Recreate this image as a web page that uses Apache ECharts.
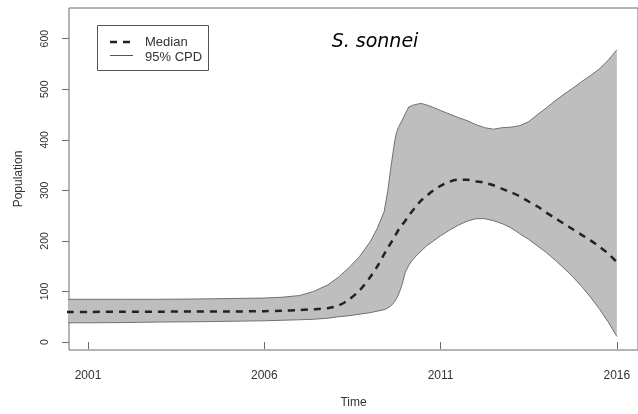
<!DOCTYPE html>
<html>
<head>
<meta charset="utf-8">
<script src="https://cdn.jsdelivr.net/npm/echarts@6/dist/echarts.min.js"></script>
<style>
html,body{margin:0;padding:0;background:#fff;}
#chart{width:638px;height:414px;}
</style>
</head>
<body>
<div id="chart"></div>
<script>
const times = [2000.4, 2001, 2002, 2003, 2004, 2005, 2006, 2006.5, 2007, 2007.4, 2007.8, 2008.1, 2008.4, 2008.7, 2009.0, 2009.2, 2009.4, 2009.5, 2009.6, 2009.7, 2009.75, 2009.8, 2009.85, 2009.9, 2010.0, 2010.1, 2010.2, 2010.3, 2010.45, 2010.6, 2010.8, 2011.0, 2011.25, 2011.5, 2011.75, 2012.0, 2012.25, 2012.5, 2012.75, 2013.0, 2013.25, 2013.5, 2013.75, 2014.0, 2014.25, 2014.5, 2014.75, 2015.0, 2015.25, 2015.5, 2015.75, 2016.0];
const upper = [84.5, 84.5, 84.5, 84.5, 85, 86, 87, 88.5, 92, 100, 113, 128, 147, 169, 198, 224, 258, 298, 350, 398, 414, 424, 431, 437, 452, 465, 468, 470, 472, 469, 464, 458, 451, 444, 438, 430, 424, 421, 424, 425, 428, 436, 450, 463, 477, 490, 502, 515, 527, 540, 557, 578];
const median = [59.5, 59.5, 60, 60, 60.5, 60.5, 61, 62, 63, 65, 67, 72, 84, 102, 128, 149, 174, 186, 197, 209, 215, 221, 226, 231, 240, 250, 259, 268, 280, 289, 300, 309, 317, 321, 321, 318, 315, 310, 303, 296, 288, 278, 268, 256, 245, 234, 223, 212, 201, 189, 175, 158];
const lower = [38, 38, 38.5, 39.5, 40, 41, 42, 43, 44, 45, 47, 50, 52, 55, 58, 61, 64, 67, 72, 80, 86, 93, 102, 112, 138, 152, 162, 170, 180, 190, 200, 210, 221, 231, 239, 244, 244, 240, 234, 226, 214, 203, 190, 177, 162, 146, 129, 110, 89, 66, 40, 11];
const xTicks = [2001, 2006, 2011, 2016];
const yTicks = [0, 100, 200, 300, 400, 500, 600];
const legendLabels = ['Median', '95% CPD'];

const chart = echarts.init(document.getElementById('chart'), null, {renderer: 'canvas'});
const lowerData = times.map((t, i) => [t, lower[i]]);
const upperData = times.map((t, i) => [t, upper[i]]);
const bandData = times.map((t, i) => [t, lower[i], upper[i]]);
const medianData = times.map((t, i) => [t, median[i]]);
const axisGray = '#6a6a6a';
const bandLine = '#707070';
const txt = '#333';

chart.setOption({
  animation: false,
  backgroundColor: '#fff',
  grid: {left: 69, top: 8, width: 570, height: 342, show: true, borderColor: axisGray, borderWidth: 1, backgroundColor: 'transparent'},
  xAxis: {
    type: 'value', min: 2000.46, max: 2016.6,
    name: 'Time', nameLocation: 'middle', nameGap: 47,
    nameTextStyle: {fontFamily: 'Liberation Sans', fontSize: 12, color: txt},
    axisLine: {show: false},
    splitLine: {show: false},
    axisTick: {show: true, length: 7, customValues: xTicks, lineStyle: {color: axisGray}},
    axisLabel: {customValues: xTicks, margin: 20, fontFamily: 'Liberation Sans', fontSize: 12, color: txt, formatter: v => String(v)}
  },
  yAxis: {
    type: 'value', min: -15.8, max: 660.7,
    name: 'Population', nameLocation: 'middle', nameGap: 44, nameRotate: 90,
    nameTextStyle: {fontFamily: 'Liberation Sans', fontSize: 12, color: txt},
    axisLine: {show: false},
    splitLine: {show: false},
    axisTick: {show: true, length: 7, customValues: yTicks, lineStyle: {color: axisGray}},
    axisLabel: {customValues: yTicks, rotate: 90, margin: 18, fontFamily: 'Liberation Sans', fontSize: 10.5, color: txt}
  },
  graphic: [
    {type: 'rect', shape: {x: 97.5, y: 25.5, width: 111, height: 45}, style: {fill: '#fff', stroke: '#555', lineWidth: 1}, z: 10},
    {type: 'line', shape: {x1: 110, y1: 42, x2: 131, y2: 42}, style: {stroke: '#222', lineWidth: 2.5, lineDash: [7, 6]}, z: 11},
    {type: 'line', shape: {x1: 110, y1: 55.5, x2: 133, y2: 55.5}, style: {stroke: '#555', lineWidth: 1}, z: 11},
    {type: 'text', x: 145, y: 42.5, style: {text: legendLabels[0], fontFamily: 'Liberation Sans', fontSize: 13, fill: txt, verticalAlign: 'middle'}, z: 11},
    {type: 'text', x: 145, y: 57, style: {text: legendLabels[1], fontFamily: 'Liberation Sans', fontSize: 13, fill: txt, verticalAlign: 'middle'}, z: 11},
    {type: 'text', x: 375, y: 42, style: {text: 'S. sonnei', fontFamily: 'DejaVu Sans', fontStyle: 'italic', fontSize: 19, fill: '#000', align: 'center', verticalAlign: 'middle'}, z: 11}
  ],
  series: [
    {name: '95% CPD band', type: 'custom', data: bandData, clip: true, z: 1,
     encode: {x: 0, y: [1, 2]},
     renderItem: (params, api) => {
       if (params.dataIndex !== 0) return null;
       const pts = [];
       for (let i = 0; i < bandData.length; i++) pts.push(api.coord([bandData[i][0], bandData[i][2]]));
       for (let i = bandData.length - 1; i >= 0; i--) pts.push(api.coord([bandData[i][0], bandData[i][1]]));
       return {type: 'polygon', shape: {points: pts}, style: {fill: '#bebebe', stroke: null}};
     }},
    {name: '95% CPD', type: 'line', data: upperData, symbol: 'none', lineStyle: {color: bandLine, width: 1}, z: 2},
    {name: '95% CPD', type: 'line', data: lowerData, symbol: 'none', lineStyle: {color: bandLine, width: 1}, z: 2},
    {name: 'Median', type: 'line', data: medianData, symbol: 'none', smooth: 0.3,
     lineStyle: {color: '#222', width: 2.5, type: [7, 6]}, z: 3}
  ]
});
</script>
</body>
</html>
